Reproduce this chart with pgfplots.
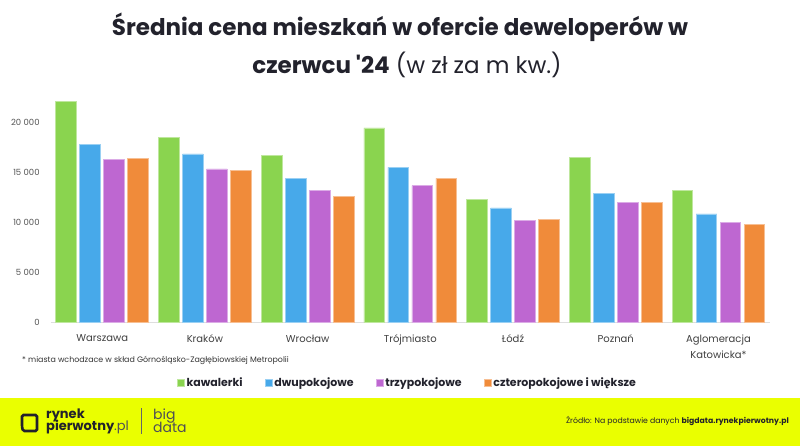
\documentclass[border=0pt]{standalone}
\usepackage{fontspec}
\setmainfont{Poppins}
\usepackage{pgfplots}
\pgfplotsset{compat=1.18}
\definecolor{cgreen}{HTML}{8AD44F}
\definecolor{cblue}{HTML}{47A9EA}
\definecolor{cpurple}{HTML}{BE67D1}
\definecolor{corange}{HTML}{F08B3A}
\definecolor{cyellow}{RGB}{234,255,0}
\definecolor{ctitle}{HTML}{22222C}
\definecolor{ctick}{HTML}{555555}
\begin{document}
\begin{tikzpicture}[x=1pt,y=1pt]
\fill[white] (0,0) rectangle (800,446);
\useasboundingbox (0,0) rectangle (800,446);
\fill[cyellow] (0,0) rectangle (800,47.5);
% title
\node[font=\fontsize{23}{27}\selectfont\bfseries, text=ctitle] at (400,419) {Średnia cena mieszkań w ofercie deweloperów w};
\node[font=\fontsize{23}{27}\selectfont, text=ctitle] at (407,381) {\textbf{czerwcu \textquotesingle24} (w zł za m kw.)};
\begin{axis}[
  at={(50.8pt,123.3pt)}, anchor=south west,
  scale only axis, width=719pt, height=230.5pt,
  xmin=-0.5, xmax=6.5, ymin=0, ymax=23000,
  scaled y ticks=false,
  ybar=3.3pt, bar width=20.7pt,
  axis x line*=bottom, axis y line*=left,
  y axis line style={draw=none},
  x axis line style={draw=black!13, line width=1pt},
  major tick length=0pt,
  ytick={0,5000,10000,15000,20000},
  yticklabels={0,5 000,10 000,15 000,20 000},
  yticklabel style={font=\fontsize{8.5}{10}\selectfont, text=ctick, inner sep=0pt, xshift=-11pt},
  xtick={0,...,6},
  xticklabels={Warszawa,Kraków,Wrocław,Trójmiasto,Łódź,Poznań,{Aglomeracja\\Katowicka*}},
  xticklabel style={font=\fontsize{10}{15.5}\selectfont, text=black!75, align=center, inner sep=0pt, yshift=-12pt},
  legend columns=4,
  legend style={draw=none, fill=none, at={(0.496,-0.2603)}, anchor=center,
    font=\fontsize{11}{13}\selectfont\bfseries, text=ctitle,
    /tikz/every even column/.append style={column sep=20pt}},
  legend image code/.code={\fill[#1] (0pt,-3.5pt) rectangle (7pt,3.5pt);},
  every axis plot/.append style={line width=0.7pt},
]
\addplot[fill=cgreen, draw=cgreen!55!white] coordinates {(0,22050) (1,18500) (2,16670) (3,19430) (4,12320) (5,16470) (6,13170)};
\addplot[fill=cblue, draw=cblue!55!white] coordinates {(0,17830) (1,16840) (2,14370) (3,15510) (4,11450) (5,12870) (6,10850)};
\addplot[fill=cpurple, draw=cpurple!55!white] coordinates {(0,16270) (1,15340) (2,13170) (3,13670) (4,10220) (5,11980) (6,9980)};
\addplot[fill=corange, draw=corange!55!white] coordinates {(0,16410) (1,15170) (2,12620) (3,14410) (4,10320) (5,11980) (6,9820)};
\legend{kawalerki,dwupokojowe,trzypokojowe,czteropokojowe i większe}
\end{axis}
% footnote
\node[anchor=west, font=\fontsize{7.9}{9}\selectfont, text=black!80, inner sep=0pt] at (22,85.3) {* miasta wchodzace w skład Górnośląsko-Zagłębiowskiej Metropolii};
% logo
\draw[ctitle, line width=2.6pt, rounded corners=1.5pt] (23,15) -- (37,15) -- (37,31) -- (22,31) -- (22,19) -- cycle;
\node[anchor=west, font=\fontsize{13}{13}\selectfont\bfseries, text=ctitle, inner sep=0pt] at (46,30.3) {rynek};
\node[anchor=west, font=\fontsize{13}{13}\selectfont, text=ctitle, inner sep=0pt] at (46,18.7) {\textbf{pierwotny}\textcolor{ctitle!80}{.pl}};
\draw[ctitle!70, line width=0.6pt] (141.7,12) -- (141.7,38);
\node[anchor=west, font=\fontsize{14}{14}\selectfont, text=ctitle!80, inner sep=0pt] at (153,30.3) {big};
\node[anchor=west, font=\fontsize{14}{14}\selectfont, text=ctitle!80, inner sep=0pt] at (153,18.7) {data};
% source
\node[anchor=east, font=\fontsize{7.75}{9}\selectfont, text=ctitle, inner sep=0pt] at (789,25) {Źródło: Na podstawie danych \textbf{bigdata.rynekpierwotny.pl}};
\end{tikzpicture}
\end{document}
